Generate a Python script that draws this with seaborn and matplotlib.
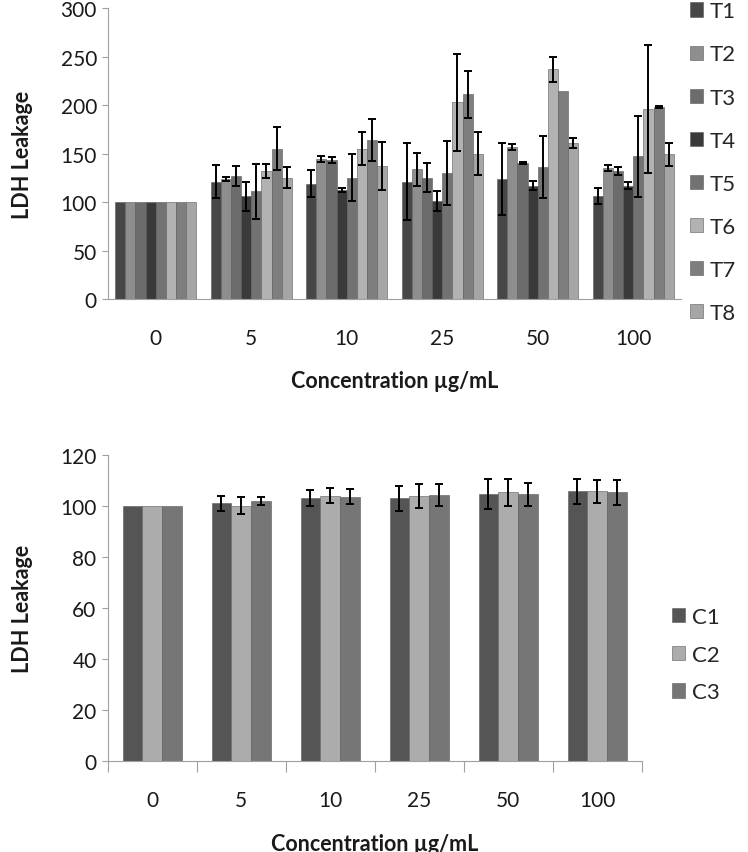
import numpy as np
import pandas as pd
import seaborn as sns
import matplotlib.pyplot as plt
from matplotlib.ticker import FixedLocator

conc = ['0', '5', '10', '25', '50', '100']

# top chart: T1..T8 means and error
t_names = ['T1', 'T2', 'T3', 'T4', 'T5', 'T6', 'T7', 'T8']
t1 = [100, 121, 119, 121, 124, 106]
t2 = [100, 124, 144, 134, 157, 135]
t3 = [100, 127, 143, 125, 140, 132]
t4 = [100, 106, 112, 101, 117, 117]
t5 = [100, 111, 125, 130, 136, 147]
t6 = [100, 132, 155, 203, 237, 196]
t7 = [100, 155, 164, 211, 214, 198]
t8 = [100, 125, 137, 150, 161, 149]
t1_err = [0, 17, 14, 40, 37, 8]
t2_err = [0, 2, 3, 17, 3, 3.5]
t3_err = [0, 10, 3, 15, 1, 4]
t4_err = [0, 15, 2, 10, 5, 4]
t5_err = [0, 28, 24, 33, 32, 42]
t6_err = [0, 7, 17, 50, 13, 66]
t7_err = [0, 22, 22, 24, 0, 1.5]
t8_err = [0, 11, 25, 22, 5, 12]

# bottom chart: C1..C3
c_names = ['C1', 'C2', 'C3']
c1 = [100, 100.9, 102.9, 103.0, 104.6, 105.6]
c2 = [100, 100.1, 103.9, 103.9, 105.2, 105.6]
c3 = [100, 101.8, 103.6, 104.2, 104.6, 105.2]
c1_err = [0, 3.0, 3.1, 4.9, 5.9, 4.8]
c2_err = [0, 3.5, 3.0, 4.6, 5.2, 4.6]
c3_err = [0, 1.6, 2.9, 4.2, 4.5, 4.8]

t_colors = ['#474747', '#8e8e8e', '#6c6c6c', '#3a3a3a', '#727272', '#b2b2b2', '#7e7e7e', '#a6a6a6']
c_colors = ['#555555', '#acacac', '#767676']

sns.set_style('white')
plt.rcParams['font.family'] = ['Lato', 'DejaVu Sans']
plt.rcParams['axes.edgecolor'] = '#a0a0a0'

def long_df(names, series):
    rows = []
    for name, vals in zip(names, series):
        for c, v in zip(conc, vals):
            rows.append({'conc': c, 'group': name, 'value': v})
    return pd.DataFrame(rows)

top_df = long_df(t_names, [t1, t2, t3, t4, t5, t6, t7, t8])
bot_df = long_df(c_names, [c1, c2, c3])
top_err = [t1_err, t2_err, t3_err, t4_err, t5_err, t6_err, t7_err, t8_err]
bot_err = [c1_err, c2_err, c3_err]

fig = plt.figure(figsize=(7.48, 8.53), dpi=100)
ax1 = fig.add_axes([0.1444, 0.6483, 0.766, 0.3411])
ax2 = fig.add_axes([0.144, 0.1063, 0.714, 0.3595])


def draw(ax, df, names, colors, errs, width, ymax, ystep, legend_anchor, spacing, xticks_minor):
    sns.barplot(data=df, x='conc', y='value', hue='group', hue_order=names,
                palette=colors, width=width, errorbar=None, ax=ax,
                edgecolor='#5a5a5a', linewidth=0.4, saturation=1)
    for cont, err in zip(ax.containers, errs):
        xs = np.array([b.get_x() + b.get_width() / 2 for b in cont])
        ys = np.array([b.get_height() for b in cont])
        e = np.array(err, dtype=float)
        m = e > 0
        ax.errorbar(xs[m], ys[m], yerr=e[m], fmt='none', ecolor='black',
                    elinewidth=1.4, capsize=2.8, capthick=1.4, zorder=5)
    ax.set_ylim(0, ymax)
    ax.set_yticks(np.arange(0, ymax + 1, ystep))
    ax.set_xlim(-0.5, len(conc) - 0.5)
    sns.despine(ax=ax)
    ax.tick_params(axis='y', which='major', left=True, length=4, width=0.8,
                   color='#a0a0a0', labelsize=15, pad=4, labelcolor='#1a1a1a')
    ax.tick_params(axis='x', which='major', bottom=False, length=0,
                   labelsize=15, pad=21, labelcolor='#1a1a1a')
    if xticks_minor:
        ax.xaxis.set_minor_locator(FixedLocator(np.arange(-0.5, len(conc), 1.0)))
        ax.tick_params(axis='x', which='minor', bottom=True, length=8,
                       width=0.8, color='#a0a0a0')
    ax.set_xlabel('Concentration µg/mL', fontsize=15.5, fontweight='bold',
                  labelpad=16, color='#1a1a1a')
    ax.set_ylabel('LDH Leakage', fontsize=15.5, fontweight='bold', color='#1a1a1a')
    handles = ax.containers
    ax.legend(handles, names, loc='center left', bbox_to_anchor=legend_anchor,
              frameon=False, fontsize=16, handlelength=0.6, handleheight=0.6,
              handletextpad=0.3, labelspacing=spacing, borderaxespad=0)


draw(ax1, top_df, t_names, t_colors, top_err, 0.85, 300, 50, (1.0, 0.47), 1.04, False)
draw(ax2, bot_df, c_names, c_colors, bot_err, 0.667, 120, 20, (1.04, 0.348), 0.8, True)

ax1.yaxis.set_label_coords(-0.131, 0.5)
ax2.yaxis.set_label_coords(-0.14, 0.5)

fig.savefig('out.png', dpi=100)
